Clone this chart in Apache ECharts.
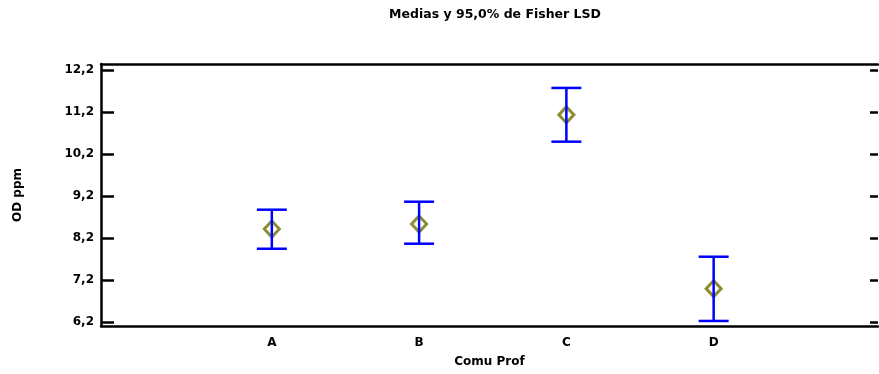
<!DOCTYPE html>
<html>
<head>
<meta charset="utf-8">
<script src="https://cdn.jsdelivr.net/npm/echarts@6/dist/echarts.min.js"></script>
<style>html,body{margin:0;padding:0;background:#fff;}#c{width:879px;height:374px;}</style>
</head>
<body>
<div id="c"></div>
<script>
const categories = ['A', 'B', 'C', 'D'];
const means = [8.41, 8.53, 11.13, 6.99];
const lower = [7.94, 8.06, 10.49, 6.22];
const upper = [8.87, 9.06, 11.77, 7.75];
const yTicks = [6.2, 7.2, 8.2, 9.2, 10.2, 11.2, 12.2];

const font = '"DejaVu Sans", Verdana, sans-serif';
const fs = 12;
const chart = echarts.init(document.getElementById('c'), null, {renderer: 'canvas'});

const meanData = means.map((v, i) => [i + 1, v]);
const barData = categories.map((c, i) => [i + 1, lower[i], upper[i]]);

const xMin = -0.16, xMax = 5.116;

chart.setOption({
  animation: false,
  title: {
    text: 'Medias y 95,0% de Fisher LSD', left: 490, top: 3, textAlign: 'center',
    textStyle: {fontFamily: font, fontSize: 12.5, fontWeight: 'bold', color: '#000'}
  },
  grid: {left: 101, right: 1, top: 64, bottom: 48},
  xAxis: [{
    type: 'value', min: xMin, max: xMax, position: 'bottom',
    axisLine: {show: true, onZero: false, lineStyle: {color: '#000', width: 2.5}},
    axisTick: {show: false},
    splitLine: {show: false},
    axisLabel: {
      customValues: [1, 2, 3, 4],
      formatter: v => categories[Math.round(v) - 1] || '',
      fontFamily: font, fontSize: fs, fontWeight: 'bold', color: '#000', margin: 11
    },
    name: 'Comu Prof', nameLocation: 'middle', nameGap: 30,
    nameTextStyle: {fontFamily: font, fontSize: fs, fontWeight: 'bold', color: '#000'}
  }, {
    type: 'value', min: xMin, max: xMax, position: 'top',
    axisLine: {show: true, onZero: false, lineStyle: {color: '#000', width: 2.5}},
    axisTick: {show: false}, axisLabel: {show: false}, splitLine: {show: false}
  }],
  yAxis: [{
    type: 'value', min: 6.1, max: 12.34, position: 'left',
    axisLine: {show: true, onZero: false, lineStyle: {color: '#000', width: 2.5}},
    axisTick: {show: true, inside: true, length: 13, lineStyle: {color: '#000', width: 2.5}, customValues: yTicks},
    splitLine: {show: false},
    axisLabel: {
      customValues: yTicks,
      formatter: v => v.toFixed(1).replace('.', ','),
      fontFamily: font, fontSize: fs, fontWeight: 'bold', color: '#000', margin: 7
    },
    name: 'OD ppm', nameLocation: 'middle', nameGap: 77, nameRotate: 90,
    nameTextStyle: {fontFamily: font, fontSize: fs, fontWeight: 'bold', color: '#000'}
  }, {
    type: 'value', min: 6.1, max: 12.34, position: 'right',
    axisLine: {show: false, onZero: false},
    axisTick: {show: true, inside: true, length: 8, lineStyle: {color: '#000', width: 2.5}, customValues: yTicks},
    axisLabel: {show: false}, splitLine: {show: false}
  }],
  series: [{
    type: 'scatter', data: meanData, symbol: 'diamond', symbolSize: [15, 16],
    itemStyle: {color: 'transparent', borderColor: '#6f6f00', borderWidth: 3},
    z: 2
  }, {
    type: 'custom', data: barData, z: 3,
    renderItem: function (params, api) {
      const x = api.value(0);
      const lo = api.coord([x, api.value(1)]);
      const hi = api.coord([x, api.value(2)]);
      const hw = 15;
      const style = {stroke: '#0000ff', lineWidth: 2.5};
      return {
        type: 'group',
        children: [
          {type: 'line', shape: {x1: lo[0], y1: lo[1], x2: hi[0], y2: hi[1]}, style: style},
          {type: 'line', shape: {x1: lo[0] - hw, y1: lo[1], x2: lo[0] + hw, y2: lo[1]}, style: style},
          {type: 'line', shape: {x1: hi[0] - hw, y1: hi[1], x2: hi[0] + hw, y2: hi[1]}, style: style}
        ]
      };
    }
  }]
});
</script>
</body>
</html>
